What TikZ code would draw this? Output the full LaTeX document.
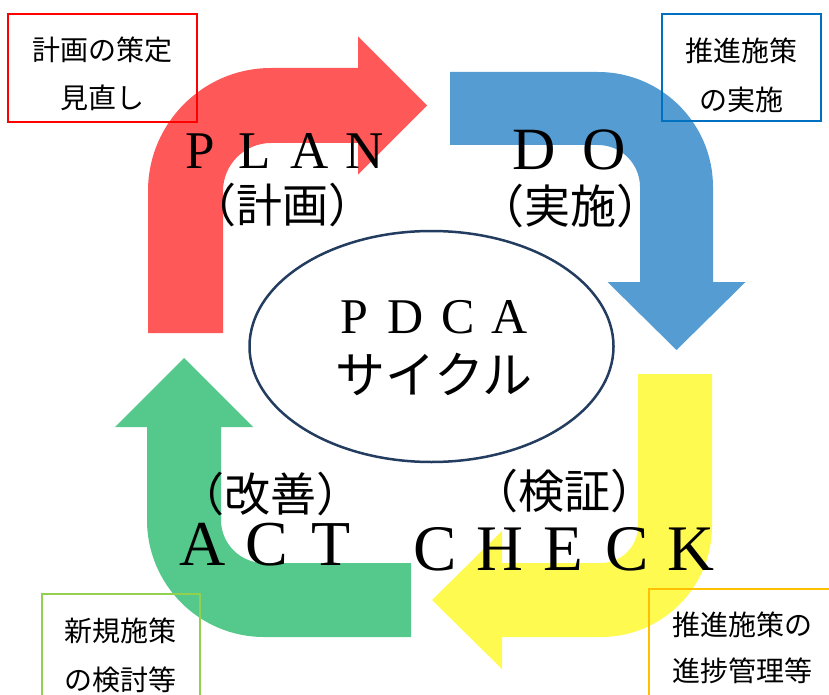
\documentclass[tikz,border=0pt]{standalone}
\usepackage{fontspec}
\setmainfont{Liberation Serif}
\newfontfamily\jpfont{Noto Sans CJK JP}
\usetikzlibrary{shapes.geometric}
\definecolor{cRed}{HTML}{FF5858}
\definecolor{cBlue}{HTML}{559CD3}
\definecolor{cYellow}{HTML}{FFFA50}
\definecolor{cGreen}{HTML}{55C98C}
\definecolor{cNavy}{HTML}{233D60}
\definecolor{bRed}{HTML}{FF0000}
\definecolor{bBlue}{HTML}{0070C0}
\definecolor{bGreen}{HTML}{92D050}
\definecolor{bOrange}{HTML}{FFC000}
\makeatletter
\def\lspletters#1#2{\def\lsp@w{#1}\lsp@loop#2\relax}
\def\lsp@loop#1{\ifx#1\relax\else\makebox[\lsp@w]{#1}\expandafter\lsp@loop\fi}
\makeatother
\tikzset{
  arrowshape/.style={draw=none},
  labelbox/.style={draw, line width=2pt, inner sep=0pt, rectangle},
  boxtext/.style={inner sep=0pt, align=center, font=\jpfont\fontsize{28}{#1}\selectfont},
  bigjp/.style={inner sep=0pt, font=\jpfont\fontsize{46}{50}\selectfont},
  latinbig/.style={inner sep=0pt, anchor=base},
}
\begin{document}
\begin{tikzpicture}[x=1pt,y=-1pt]
\useasboundingbox (0,0) rectangle (829,695);
\fill[white] (0,0) rectangle (829,695);
% PLAN arrow (red)
\fill[cRed] (148,333) -- (148,191) .. controls (148,123.1) and (203.1,68) .. (271,68)
  -- (358,68) -- (358,36.5) -- (427,105.5) -- (358,174.5) -- (358,143) -- (271,143)
  .. controls (244.5,143) and (223,164.5) .. (223,191) -- (223,333) -- cycle;
% DO arrow (blue)
\fill[cBlue] (450,72) -- (598,72) .. controls (661.5,72) and (713,123.5) .. (713,187)
  -- (713,282) -- (745.5,282) -- (676.5,350) -- (607.5,282) -- (640,282) -- (640,187)
  .. controls (640,163.8) and (621.2,145) .. (598,145) -- (450,145) -- cycle;
% CHECK arrow (yellow)
\fill[cYellow] (638,374) -- (712,374) -- (712,526) .. controls (712,587.3) and (662.3,637) .. (601,637)
  -- (502,637) -- (502,669) -- (432,600) -- (502,531) -- (502,563) -- (601,563)
  .. controls (621.4,563) and (638,546.4) .. (638,526) -- cycle;
% ACT arrow (green)
\fill[cGreen] (411,637) -- (264,637) .. controls (199.4,637) and (147,584.6) .. (147,520)
  -- (147,427) -- (115,427) -- (184,358) -- (253,427) -- (221,427) -- (221,520)
  .. controls (221,543.7) and (240.3,563) .. (264,563) -- (411,563) -- cycle;
% center ellipse
\node[ellipse, draw=cNavy, line width=2.5pt, fill=white, minimum width=364pt, minimum height=231pt, inner sep=0pt] (cycle) at (431.5,346.5) {};
\node[latinbig, font=\fontsize{50}{50}\selectfont] (pdca) at (432,333) {\lspletters{52pt}{PDCA}};
\node[inner sep=0pt, font=\jpfont\fontsize{50}{50}\selectfont] (saikuru) at (434,374) {サイクル};
% big labels
\node[latinbig, font=\fontsize{53}{53}\selectfont] (plan) at (282.5,168) {\lspletters{55pt}{PLAN}};
\node[bigjp] (keikaku) at (282.5,205) {（計画）};
\node[latinbig, font=\fontsize{60}{60}\selectfont] (do) at (569.5,170) {\lspletters{70pt}{DO}};
\node[bigjp] (jisshi) at (570,206) {（実施）};
\node[latinbig, font=\fontsize{65}{65}\selectfont] (check) at (563.5,570) {\lspletters{64pt}{CHECK}};
\node[bigjp] (kensho) at (564,491) {（検証）};
\node[latinbig, font=\fontsize{64}{64}\selectfont] (act) at (267,565) {\lspletters{64pt}{ACT}};
\node[bigjp] (kaizen) at (270,494) {（改善）};
% corner boxes
\node[labelbox, draw=bRed, minimum width=189pt, minimum height=108pt] (boxP) at (102.5,68) {};
\node[boxtext=48] (txtP) at (102.5,73.5) {計画の策定\\見直し};
\node[labelbox, draw=bBlue, minimum width=159pt, minimum height=107pt] (boxD) at (741.5,67.5) {};
\node[boxtext=49] (txtD) at (741.5,75) {推進施策\\の実施};
\node[labelbox, draw=bGreen, minimum width=158pt, minimum height=120pt] (boxA) at (121,654) {};
\node[boxtext=49] (txtA) at (120.5,655) {新規施策\\の検討等};
\node[labelbox, draw=bOrange, minimum width=200pt, minimum height=120pt] (boxC) at (749,649) {};
\node[boxtext=46] (txtC) at (742,647.5) {推進施策の\\進捗管理等};
\end{tikzpicture}
\end{document}
